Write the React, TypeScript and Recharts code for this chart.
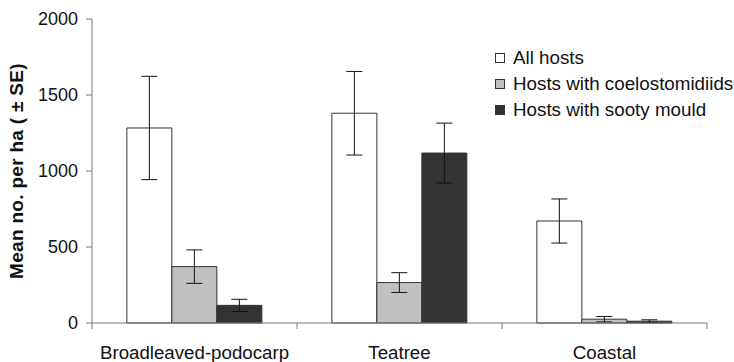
import React from "react"
import { BarChart, Bar, XAxis, YAxis, ErrorBar } from "recharts"

const categories = ["Broadleaved-podocarp", "Teatree", "Coastal"]
const allHosts = [1283, 1380, 671]
const allHostsSE = [340, 275, 145]
const coelo = [371, 266, 25]
const coeloSE = [110, 65, 18]
const sooty = [116, 1118, 12]
const sootySE = [40, 197, 9]
const yTicks = [0, 500, 1000, 1500, 2000]

const series = [
  { key: "all", name: "All hosts", fill: "#ffffff" },
  { key: "coelo", name: "Hosts with coelostomidiids", fill: "#c0c0c0" },
  { key: "sooty", name: "Hosts with sooty mould", fill: "#333333" },
]

const data = categories.map((c, i) => ({
  name: c,
  idx: i + 0.5,
  all: allHosts[i],
  allErr: allHostsSE[i],
  coelo: coelo[i],
  coeloErr: coeloSE[i],
  sooty: sooty[i],
  sootyErr: sootySE[i],
}))

const FONT = "'Liberation Sans', Arial, sans-serif"

function LegendBox() {
  return (
    <div
      style={{
        position: "absolute",
        left: 495,
        top: 45,
        width: 239,
        fontFamily: FONT,
        fontSize: 18.8,
        color: "#111",
        whiteSpace: "nowrap",
      }}
    >
      {series.map(s => (
        <div key={s.key} style={{ display: "flex", alignItems: "center", height: 26 }}>
          <span
            style={{
              width: 8,
              height: 8,
              flex: "none",
              background: s.fill,
              border: "1px solid #333",
              marginRight: 8,
              display: "inline-block",
            }}
          />
          <span>{s.name}</span>
        </div>
      ))}
    </div>
  )
}

export default function App() {
  return (
    <div style={{ position: "absolute", left: 0, top: 0, width: 734, height: 362, background: "#fff" }}>
      <BarChart
        width={734}
        height={362}
        data={data}
        margin={{ top: 19, right: 27, bottom: 0, left: 0 }}
        barCategoryGap="17%"
        barGap={0}
      >
        <XAxis
          xAxisId="bounds"
          type="number"
          dataKey="idx"
          domain={[0, 3]}
          ticks={[0, 1, 2, 3]}
          tickFormatter={() => ""}
          height={1}
          stroke="#777"
          tickSize={6}
        />
        <XAxis
          xAxisId="cat"
          dataKey="name"
          axisLine={false}
          tickLine={false}
          height={38}
          tick={{ fontFamily: FONT, fontSize: 18.7, fill: "#111", dy: 14 }}
          interval={0}
        />
        <YAxis
          width={92}
          domain={[0, 2000]}
          ticks={yTicks}
          stroke="#777"
          tickSize={6}
          tickMargin={8}
          tick={{ fontFamily: FONT, fontSize: 18, fill: "#111" }}
          label={{
            value: "Mean no. per ha ( ± SE)",
            angle: -90,
            position: "insideLeft",
            offset: 16,
            style: {
              fontFamily: FONT,
              fontSize: 19,
              letterSpacing: 0.3,
              fontWeight: "bold",
              fill: "#111",
              textAnchor: "middle",
            },
          }}
        />
        {series.map(s => (
          <Bar
            key={s.key}
            xAxisId="cat"
            dataKey={s.key}
            name={s.name}
            fill={s.fill}
            stroke="#333"
            strokeWidth={1}
            isAnimationActive={false}
          >
            <ErrorBar dataKey={s.key + "Err"} width={8} stroke="#111" strokeWidth={1} />
          </Bar>
        ))}
      </BarChart>
      <LegendBox />
    </div>
  )
}
